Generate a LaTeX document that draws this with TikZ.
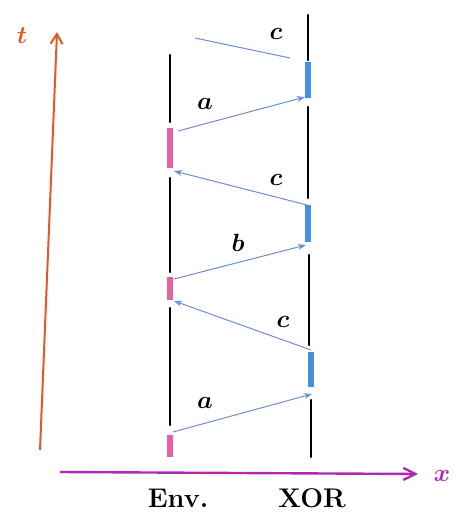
\documentclass[tikz,border=0pt]{standalone}
\usetikzlibrary{arrows.meta}
\definecolor{taxis}{RGB}{232,86,40}
\definecolor{xaxis}{RGB}{176,40,180}
\definecolor{envpink}{RGB}{232,96,160}
\definecolor{xorblue}{RGB}{64,146,222}
\definecolor{msgblue}{RGB}{110,140,210}
\tikzset{
  world/.style={line width=2.4pt,line cap=round},
  envmark/.style={line width=6pt,draw=envpink},
  xormark/.style={line width=6pt,draw=xorblue},
  msg/.style={draw=msgblue,line width=1pt,-{Stealth[open,length=8pt,width=6pt]}},
  msglbl/.style={font=\fontsize{32}{32}\selectfont\boldmath},
  place/.style={font=\fontsize{27}{27}\selectfont\bfseries}
}
\begin{document}
\begin{tikzpicture}[x=1pt,y=-1pt]
\useasboundingbox (0,0) rectangle (470,520);

% axes
\coordinate (t0) at (40,450);
\coordinate (t1) at (57,32);
\coordinate (x0) at (60,472);
\coordinate (x1) at (418,474);
\draw[taxis,line width=2pt,-{Straight Barb[length=10pt,width=12pt]}] (t0) -- (t1);
\draw[xaxis,line width=2.4pt,-{Straight Barb[length=12pt,width=12pt]}] (x0) -- (x1);
\node[taxis,font=\fontsize{38}{38}\selectfont\boldmath] (tlbl) at (22,36) {$t$};
\node[xaxis,font=\fontsize{40}{40}\selectfont\boldmath] (xlbl) at (442,476) {$x$};

% world lines
\draw[world] (170,55) -- (170,122);
\draw[world] (170,178) -- (170,272);
\draw[world] (170,308) -- (170,425);
\draw[world] (308,15) -- (308,60);
\draw[world] (308,107) -- (308,198);
\draw[world] (309,255) -- (309,345);
\draw[world] (311,400) -- (311,457);

% busy intervals
\draw[envmark] (170,128) -- (170,168);
\draw[envmark] (170,277) -- (170,300);
\draw[envmark] (170,435) -- (170,457);
\draw[xormark] (308,62) -- (308,98);
\draw[xormark] (308,205) -- (308,242);
\draw[xormark] (311,352) -- (311,387);

% messages
\coordinate (e1) at (173,432);
\coordinate (o1) at (312,394);
\coordinate (o2) at (311,350);
\coordinate (e2) at (174,301);
\coordinate (e3) at (174,279);
\coordinate (o3) at (306,245);
\coordinate (o4) at (307,205);
\coordinate (e4) at (174,171);
\coordinate (e5) at (178,131);
\coordinate (o5) at (305,97);
\coordinate (o6) at (290,58);
\coordinate (m6) at (195,38);
\draw[msg] (e1) -- (o1);
\draw[msg] (o2) -- (e2);
\draw[msg] (e3) -- (o3);
\draw[msg] (o4) -- (e4);
\draw[msg] (e5) -- (o5);
\draw[msg,-] (o6) -- (m6);

\node[msglbl] (la1) at (205,403) {$a$};
\node[msglbl] (lc2) at (283,322) {$c$};
\node[msglbl] (lb3) at (238,243) {$b$};
\node[msglbl] (lc4) at (276,180) {$c$};
\node[msglbl] (la5) at (205,104) {$a$};
\node[msglbl] (lc6) at (276,34) {$c$};

\node[place] (env) at (178,498) {Env.};
\node[place] (xor) at (312,498) {XOR};
\end{tikzpicture}
\end{document}
